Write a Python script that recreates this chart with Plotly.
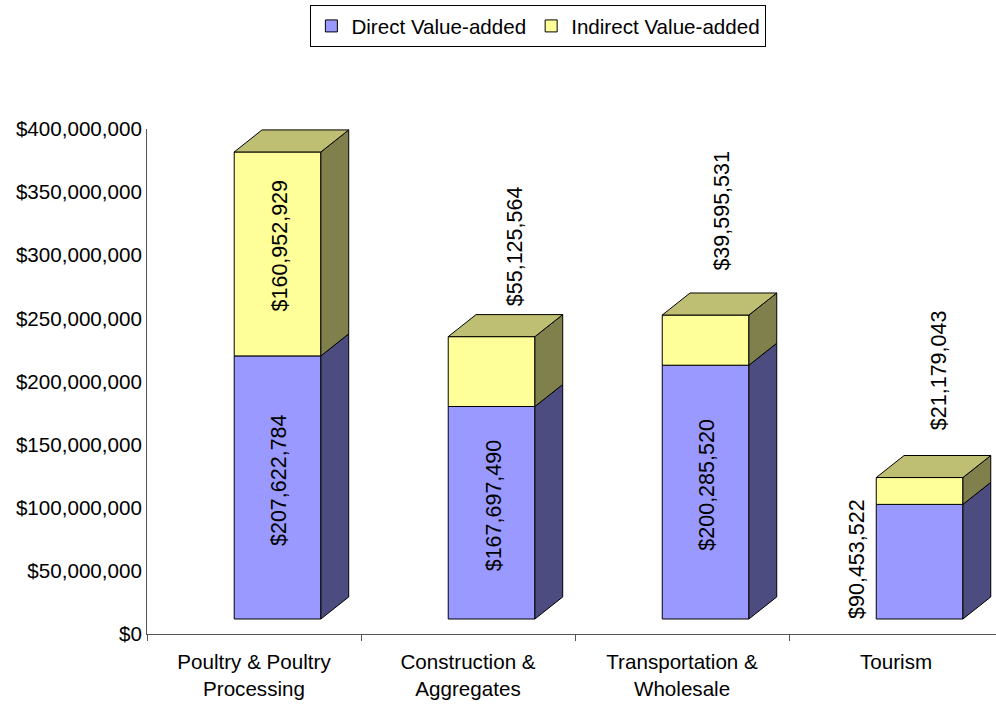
import plotly.graph_objects as go

# ---- data -------------------------------------------------------------
CATEGORIES = [
    "Poultry & Poultry<br>Processing",
    "Construction &<br>Aggregates",
    "Transportation &<br>Wholesale",
    "Tourism",
]
DIRECT = [207622784, 167697490, 200285520, 90453522]
INDIRECT = [160952929, 55125564, 39595531, 21179043]
SERIES_NAMES = ["Direct Value-added", "Indirect Value-added"]
Y_TICKS = [0, 50e6, 100e6, 150e6, 200e6, 250e6, 300e6, 350e6, 400e6]
Y_TICK_TEXT = [f"${v:,.0f}" for v in Y_TICKS]

# ---- style ------------------------------------------------------------
FONT = "Liberation Sans, Arial, sans-serif"
FONT_SIZE = 20.6
LABEL_SIZE = 21.5
FRONT_CENTER = 0.11      # front face centre, offset from category centre
BAR_WIDTH = 0.405        # front face width (category units)
DEPTH_X = 0.13           # 3-D depth, horizontal (category units)
DEPTH_Y = 17.4e6         # 3-D depth, vertical (value units)
AXIS_COLOR = "#555555"
EDGE = "#000000"

DIRECT_COLORS = {"front": "#9999FF", "side": "#4C4C80", "top": "#7373BF"}
INDIRECT_COLORS = {"front": "#FFFF99", "side": "#80804C", "top": "#BFBF73"}

# label placement: "in" = centred on the front face, otherwise pixel shifts
DIRECT_LABEL_POS = ["in", "in", "in", ("left", -20, 3)]
INDIRECT_LABEL_POS = ["in", ("above", 23, 28), ("above", 16, 42), ("above", 19, 45)]

fig = go.Figure()

# invisible trace so the category axis carries the labels
fig.add_trace(go.Scatter(
    x=CATEGORIES, y=[0] * len(CATEGORIES), mode="markers",
    marker=dict(opacity=0), showlegend=False, hoverinfo="skip",
))

xs = [i + FRONT_CENTER for i in range(len(CATEGORIES))]
totals = [d + n for d, n in zip(DIRECT, INDIRECT)]

# front faces
fig.add_trace(go.Bar(
    x=xs, y=DIRECT, base=[0] * len(DIRECT), width=BAR_WIDTH,
    name=SERIES_NAMES[0], xaxis="x2", yaxis="y2",
    marker=dict(color=DIRECT_COLORS["front"], line=dict(color=EDGE, width=1)),
    hoverinfo="skip",
))
fig.add_trace(go.Bar(
    x=xs, y=INDIRECT, base=DIRECT, width=BAR_WIDTH,
    name=SERIES_NAMES[1], xaxis="x2", yaxis="y2",
    marker=dict(color=INDIRECT_COLORS["front"], line=dict(color=EDGE, width=1)),
    hoverinfo="skip",
))


def side_poly(x1, y0, y1):
    return ([x1, x1 + DEPTH_X, x1 + DEPTH_X, x1, x1, None],
            [y0, y0 + DEPTH_Y, y1 + DEPTH_Y, y1, y0, None])


def top_poly(x0, x1, y1):
    return ([x0, x0 + DEPTH_X, x1 + DEPTH_X, x1, x0, None],
            [y1, y1 + DEPTH_Y, y1 + DEPTH_Y, y1, y1, None])


def add_faces(px, py, color):
    fig.add_trace(go.Scatter(
        x=px, y=py, mode="lines", fill="toself", fillcolor=color,
        line=dict(color=EDGE, width=1), xaxis="x2", yaxis="y2",
        showlegend=False, hoverinfo="skip", cliponaxis=False,
    ))


sdx, sdy, six, siy, tix, tiy = [], [], [], [], [], []
for x, d, t in zip(xs, DIRECT, totals):
    x0, x1 = x - BAR_WIDTH / 2, x + BAR_WIDTH / 2
    a, b = side_poly(x1, 0, d)
    sdx += a; sdy += b
    a, b = side_poly(x1, d, t)
    six += a; siy += b
    a, b = top_poly(x0, x1, t)
    tix += a; tiy += b

add_faces(sdx, sdy, DIRECT_COLORS["side"])
add_faces(six, siy, INDIRECT_COLORS["side"])
add_faces(tix, tiy, INDIRECT_COLORS["top"])

# value labels
annotations = []


def label(x, y, text, xanchor="center", yanchor="middle", xshift=0, yshift=0):
    annotations.append(dict(
        x=x, y=y, xref="x2", yref="y2", text=text, showarrow=False,
        textangle=-90, xanchor=xanchor, yanchor=yanchor,
        xshift=xshift, yshift=yshift,
        font=dict(family=FONT, size=LABEL_SIZE, color="#000000"),
    ))


for x, d, pos in zip(xs, DIRECT, DIRECT_LABEL_POS):
    text = f"${d:,}"
    if pos == "in":
        label(x, d / 2, text, xshift=2, yshift=7)
    else:
        label(x - BAR_WIDTH / 2, d / 2, text, xshift=pos[1], yshift=pos[2])

for x, d, n, t, pos in zip(xs, DIRECT, INDIRECT, totals, INDIRECT_LABEL_POS):
    text = f"${n:,}"
    if pos == "in":
        label(x, d + n / 2, text, xshift=2, yshift=8)
    else:
        label(x, t, text, yanchor="bottom", xshift=pos[1], yshift=pos[2])

X_RANGE = [-0.5, 3.467]

fig.update_layout(
    width=996, height=706,
    margin=dict(l=147, r=0, t=129, b=72),
    paper_bgcolor="white", plot_bgcolor="white",
    font=dict(family=FONT, size=FONT_SIZE, color="#000000"),
    barmode="overlay",
    showlegend=True,
    legend=dict(
        orientation="h", x=0.461, xanchor="center", y=1.2455, yanchor="top",
        bordercolor="#000000", borderwidth=1, bgcolor="white",
        font=dict(family=FONT, size=FONT_SIZE),
    ),
    xaxis=dict(
        type="category", range=X_RANGE, tickson="boundaries",
        ticks="outside", ticklen=6, tickcolor=AXIS_COLOR,
        ticklabelstandoff=9,
        showline=True, linecolor=AXIS_COLOR, linewidth=1,
        showgrid=False, zeroline=False, fixedrange=True,
        tickfont=dict(family=FONT, size=FONT_SIZE),
    ),
    yaxis=dict(
        range=[0, 400e6], tickvals=Y_TICKS, ticktext=Y_TICK_TEXT,
        showline=True, linecolor=AXIS_COLOR, linewidth=1, ticks="",
        showgrid=False, zeroline=False, fixedrange=True,
        tickfont=dict(family=FONT, size=FONT_SIZE),
    ),
    xaxis2=dict(overlaying="x", range=X_RANGE, visible=False, fixedrange=True),
    yaxis2=dict(overlaying="y", range=[-11.84e6, 386.7e6], visible=False,
                fixedrange=True),
    annotations=annotations,
)

fig.write_html("out.html")
